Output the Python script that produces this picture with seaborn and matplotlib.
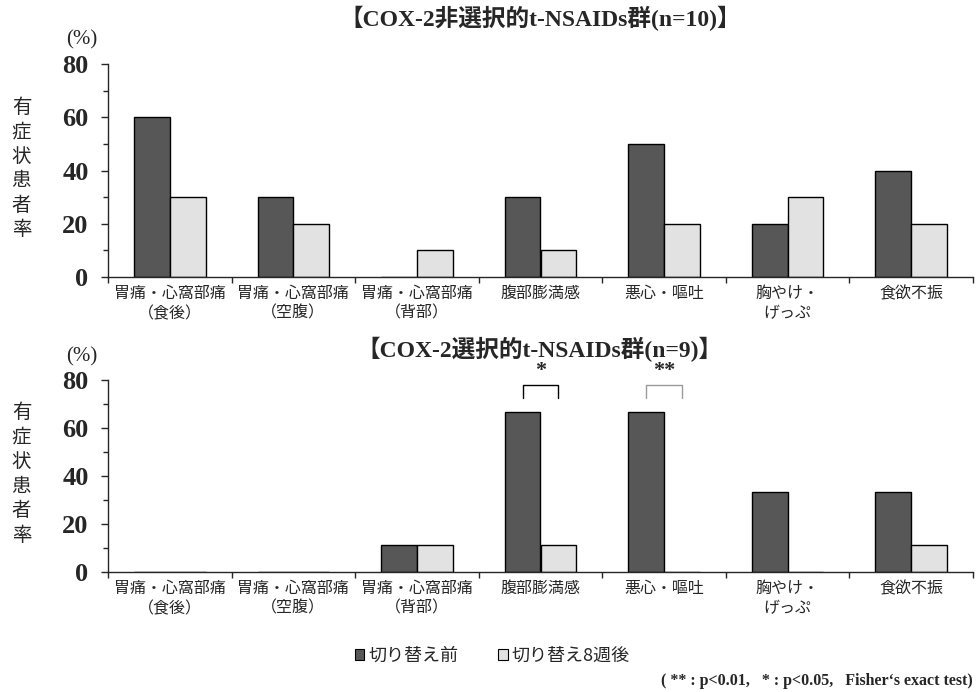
import matplotlib
matplotlib.use("Agg")
import matplotlib.pyplot as plt
from matplotlib.patches import Patch
from matplotlib.ticker import FixedLocator, MultipleLocator
import seaborn as sns
import pandas as pd

# ---- data -------------------------------------------------------------
categories = [
    "胃痛・心窩部痛\n（食後）",
    "胃痛・心窩部痛\n（空腹）",
    "胃痛・心窩部痛\n（背部）",
    "腹部膨満感",
    "悪心・嘔吐",
    "胸やけ・\nげっぷ",
    "食欲不振",
]
periods = ["切り替え前", "切り替え8週後"]

nonsel_before = [60, 30, 0, 30, 50, 20, 40]
nonsel_after = [30, 20, 10, 10, 20, 30, 20]
sel_before = [0, 0, 11.1, 66.7, 66.7, 33.3, 33.3]
sel_after = [0, 0, 11.1, 11.1, 0, 0, 11.1]

titles = ["【COX-2非選択的t-NSAIDs群(n=10)】", "【COX-2選択的t-NSAIDs群(n=9)】"]
y_ticks = [0, 20, 40, 60, 80]
y_label = "有症状患者率"
footnote = "( ** : p<0.01,   * : p<0.05,   Fisher‘s exact test)"

# significance markers in the selective group
sig_idx = [3, 4]
sig_marks = ["*", "**"]


def long_frame(before, after):
    rows = []
    for cat, b, a in zip(categories, before, after):
        rows.append({"category": cat, "period": periods[0], "value": b})
        rows.append({"category": cat, "period": periods[1], "value": a})
    return pd.DataFrame(rows)


# ---- style ------------------------------------------------------------
sns.set_style("ticks")
plt.rcParams["font.family"] = ["Noto Sans CJK JP", "DejaVu Sans"]

DARK = "#575757"
LIGHT = "#e2e2e2"
SERIF = ["Liberation Serif", "Noto Sans CJK JP"]
BAR_W = 0.58

fig = plt.figure(figsize=(9.76, 6.92), dpi=100)
W, H = 976, 692


def px_axes(left, top, right, bottom):
    return fig.add_axes([left / W, 1 - bottom / H, (right - left) / W, (bottom - top) / H])


ax_top = px_axes(108, 64, 973, 277)
ax_bot = px_axes(108, 380, 973, 572)

panels = [
    (ax_top, long_frame(nonsel_before, nonsel_after)),
    (ax_bot, long_frame(sel_before, sel_after)),
]

for ax, df in panels:
    sns.barplot(
        data=df, x="category", y="value", hue="period",
        order=categories, hue_order=periods,
        palette=[DARK, LIGHT], saturation=1, width=BAR_W,
        edgecolor="black", linewidth=1.0, legend=False, ax=ax,
    )
    ax.set_xlim(-0.5, len(categories) - 0.5)
    ax.set_ylim(0, 80)
    ax.set_xlabel("")
    ax.set_ylabel("")
    sns.despine(ax=ax)
    for s in ("left", "bottom"):
        ax.spines[s].set_linewidth(1.0)

    # y axis: bold serif labels, minor ticks every 10
    ax.yaxis.set_minor_locator(MultipleLocator(10))
    ax.set_yticks(y_ticks)
    ax.set_yticklabels([str(v) for v in y_ticks], family=SERIF,
                       fontweight="bold", fontsize=19)
    ax.tick_params(axis="y", which="major", length=5, width=1, pad=9)
    ax.tick_params(axis="y", which="minor", length=3.5, width=1)

    # x axis: labels at group centres, ticks at group boundaries
    ax.set_xticks(range(len(categories)))
    ax.set_xticklabels(categories, fontsize=11.5, linespacing=1.2)
    ax.xaxis.set_minor_locator(FixedLocator([i - 0.5 for i in range(len(categories) + 1)]))
    ax.tick_params(axis="x", which="major", length=0, pad=6)
    ax.tick_params(axis="x", which="minor", length=4, width=1)

    ax.text(-0.012, 1.07, "(%)", transform=ax.transAxes, ha="right", va="bottom",
            family=SERIF, fontsize=15)
    ax.text(-0.1, 0.51, "\n".join(y_label), transform=ax.transAxes,
            ha="center", va="center", fontsize=14, linespacing=1.22)

# significance brackets over the selective group
off = BAR_W / 4
for idx, mark in zip(sig_idx, sig_marks):
    col = "black" if mark == "*" else "#9a9a9a"
    ax_bot.plot([idx - off, idx - off, idx + off, idx + off], [72.5, 78, 78, 72.5],
                color=col, lw=1.0, clip_on=False)
    ax_bot.text(idx, 79.5, mark, ha="center", va="bottom", family=SERIF,
                fontsize=16, fontweight="bold", clip_on=False)

fig.text(540 / W, 1 - 18 / H, titles[0], ha="center", va="center",
         family=SERIF, fontsize=17, fontweight="bold")
fig.text(540 / W, 1 - 349 / H, titles[1], ha="center", va="center",
         family=SERIF, fontsize=17, fontweight="bold")

fig.legend(
    handles=[Patch(facecolor=DARK, edgecolor="black", linewidth=0.8),
             Patch(facecolor=LIGHT, edgecolor="black", linewidth=0.8)],
    labels=periods, loc="center", bbox_to_anchor=(492 / W, 1 - 656 / H),
    ncol=2, frameon=False, handlelength=0.55, handleheight=0.55,
    handletextpad=0.2, columnspacing=2.2, fontsize=13,
)

fig.text(973 / W, 1 - 681 / H, footnote, ha="right", va="center",
         family=SERIF, fontsize=11.5, fontweight="bold")

fig.savefig("out.png", dpi=100)
